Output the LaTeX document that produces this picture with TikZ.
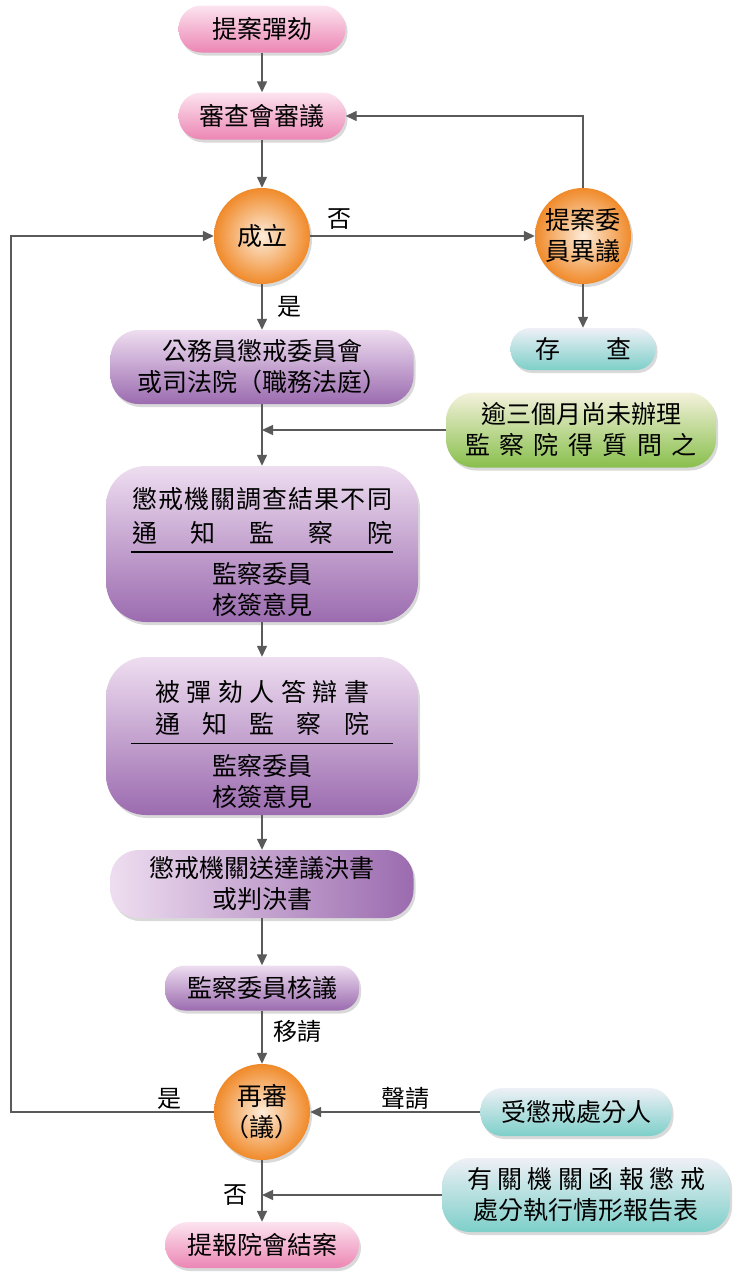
\documentclass[tikz,border=0pt]{standalone}
\usepackage{fontspec}
\setmainfont{Noto Sans CJK TC}
\usetikzlibrary{arrows.meta,shadows}
\definecolor{linegray}{HTML}{5A5A5A}
\definecolor{pinktop}{HTML}{FCE4EF}
\definecolor{pinkbot}{HTML}{EC86B4}
\definecolor{purptop}{HTML}{EEDDF0}
\definecolor{purpbot}{HTML}{9B6BAF}
\definecolor{teltop}{HTML}{EEF0F6}
\definecolor{telbot}{HTML}{7DCFC9}
\definecolor{grntop}{HTML}{F4F2DC}
\definecolor{grnbot}{HTML}{88BF4C}
\definecolor{orin}{HTML}{FDECD9}
\definecolor{orout}{HTML}{F08A2A}
\begin{document}
\begin{tikzpicture}[->,>={Triangle[length=11pt,width=10pt]},x=1pt,y=-1pt,
    font=\fontsize{25}{31}\selectfont,
    every edge/.style={draw=linegray,line width=1.4pt},
    line/.style={draw=linegray,line width=1.4pt},
    main node/.style={align=center,inner sep=0pt,
      drop shadow={shadow xshift=2pt,shadow yshift=-3pt,opacity=0.3}},
    pink node/.style={main node,rounded corners=23pt,top color=pinktop,bottom color=pinkbot},
    purple node/.style={main node,top color=purptop,bottom color=purpbot},
    teal node/.style={main node,rounded corners=22pt,top color=teltop,bottom color=telbot},
    orange node/.style={main node,circle,minimum size=96pt,inner color=orin,outer color=orout}]
  \path[use as bounding box] (0,0) rectangle (733,1274);
  % main column
  \node[pink node] (1) at (262,29) [minimum width=167pt,minimum height=47pt] {提案彈劾};
  \node[pink node] (2) [below of=1,node distance=87pt,minimum width=167pt,minimum height=47pt] {審查會審議};
  \node[orange node] (3) [below of=2,node distance=120pt] {成立};
  \node[orange node] (4) [right of=3,node distance=321pt] {提案委\\員異議};
  \node[teal node] (5) [below of=4,node distance=113pt,minimum width=145pt,minimum height=42pt,rounded corners=20pt]
    {\makebox[96pt]{存\hfill 查}};
  \node[purple node] (6) [below of=3,node distance=131pt,minimum width=303pt,minimum height=74pt,rounded corners=28pt]
    {公務員懲戒委員會\\或司法院（職務法庭）};
  \node[main node] (7) at (581,430) [minimum width=270pt,minimum height=75pt,rounded corners=28pt,top color=grntop,bottom color=grnbot]
    {\makebox[232pt]{逾三個月尚未辦理}\\\makebox[232pt]{監\hfill 察\hfill 院\hfill 得\hfill 質\hfill 問\hfill 之}};
  \node[purple node] (8) [below of=6,node distance=177pt,minimum width=312pt,minimum height=156pt,rounded corners=40pt]
    {\rule{0pt}{38pt}\makebox[260pt]{懲\hfill 戒\hfill 機\hfill 關\hfill 調\hfill 查\hfill 結\hfill 果\hfill 不\hfill 同}\\[3pt]
     \makebox[260pt]{通\hfill 知\hfill 監\hfill 察\hfill 院}\\[-21pt]
     \rule{262pt}{1.5pt}\\
     監察委員\\核簽意見};
  \node[purple node] (9) [below of=8,node distance=192pt,minimum width=312pt,minimum height=158pt,rounded corners=40pt]
    {\rule{0pt}{38pt}\makebox[214pt]{被\hfill 彈\hfill 劾\hfill 人\hfill 答\hfill 辯\hfill 書}\\[1pt]
     \makebox[214pt]{通\hfill 知\hfill 監\hfill 察\hfill 院}\\[-20pt]
     \rule{262pt}{1.5pt}\\
     監察委員\\核簽意見};
  \node[main node] (10) [below of=9,node distance=148pt,minimum width=303pt,minimum height=68pt,rounded corners=28pt,
    left color=purptop,right color=purpbot] {懲戒機關送達議決書\\或判決書};
  \node[purple node] (11) [below of=10,node distance=104pt,minimum width=194pt,minimum height=45pt,rounded corners=20pt]
    {監察委員核議};
  \node[orange node] (12) [below of=11,node distance=124pt] {再審\\（議）};
  \node[teal node] (13) [right of=12,node distance=314pt,minimum width=191pt,minimum height=48pt] {受懲戒處分人};
  \node[teal node] (14) at (586,1195) [minimum width=288pt,minimum height=74pt,rounded corners=28pt]
    {\makebox[238pt]{有\hfill 關\hfill 機\hfill 關\hfill 函\hfill 報\hfill 懲\hfill 戒}\\
     \makebox[238pt]{處分執行情形報告表}};
  \node[pink node] (15) [below of=12,node distance=133pt,minimum width=194pt,minimum height=46pt] {提報院會結案};
  % connectors
  \path[every node/.style={inner sep=0pt,font=\fontsize{24}{28}\selectfont}]
    (1) edge (2)
    (2) edge (3)
    (3) edge node[pos=0.13,above=6pt] {否} (4)
    (3) edge node[pos=0.5,right=15pt] {是} (6)
    (4) edge (5)
    (6) edge (8)
    (7) edge (7 -| 6)
    (8) edge (9)
    (9) edge (10)
    (10) edge (11)
    (11) edge node[pos=0.4,right=11pt] {移請} (12)
    (13) edge node[pos=0.44,above=2pt] {聲請} (12)
    (12) edge node[pos=0.56,left=14pt] {否} (15)
    (14) edge (14 -| 12);
  \draw[line] (4) |- (2);
  \draw[line] (12) -- node[pos=0.22,above=2pt,inner sep=0pt,font=\fontsize{24}{28}\selectfont] {是} ++(-251,0) |- (3);
\end{tikzpicture}
\end{document}
